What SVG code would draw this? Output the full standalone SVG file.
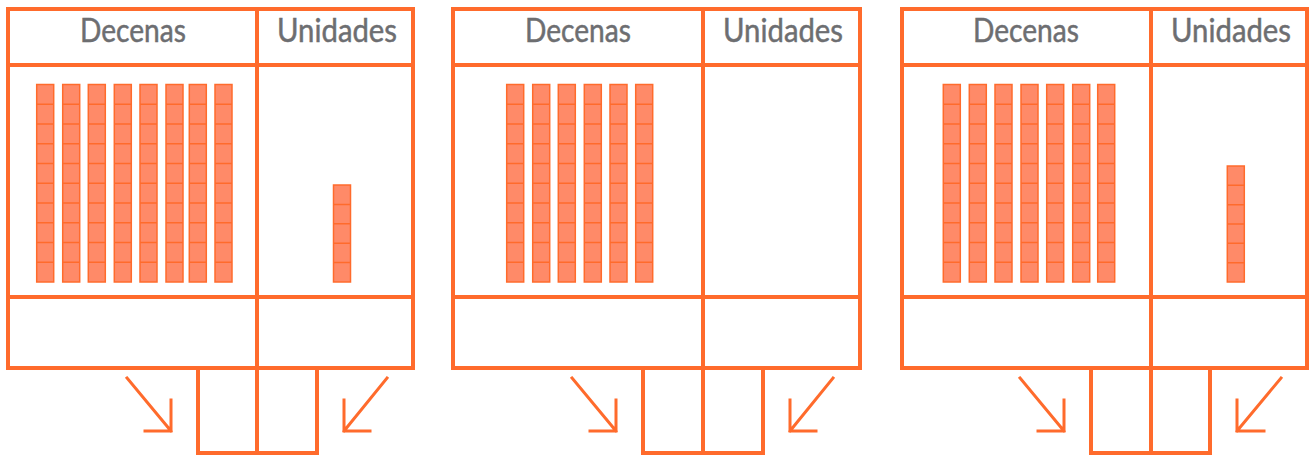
<svg xmlns="http://www.w3.org/2000/svg" xmlns:xlink="http://www.w3.org/1999/xlink" width="1311" height="456" viewBox="0 0 1311 456">
<style>
.frame{fill:none;stroke:#FF6B2C;stroke-width:4;stroke-linecap:square;stroke-linejoin:miter}
.arr{fill:none;stroke:#FF6B2C;stroke-width:3;stroke-linecap:square}
.blk{fill:#FF8A68;stroke:#FF6B2C;stroke-width:1.5}
.ln{fill:none;stroke:#FF6B2C;stroke-width:1.5}
.hd{font-family:Lato,"Open Sans","Liberation Sans",sans-serif;font-size:33px;fill:#6D6E71;stroke:#6D6E71;stroke-width:0.5;text-anchor:middle}
</style>
<defs>
<g id="rod"><rect class="blk" x="0" y="0" width="17" height="197.5"/><path class="ln" d="M0 19.75h17M0 39.5h17M0 59.25h17M0 79h17M0 98.75h17M0 118.5h17M0 138.25h17M0 158h17M0 177.75h17"/></g>
<g id="unit5"><rect class="blk" x="0" y="0" width="17" height="97"/><path class="ln" d="M0 19.4h17M0 38.8h17M0 58.2h17M0 77.6h17"/></g>
<g id="unit6"><rect class="blk" x="0" y="0" width="17" height="116"/><path class="ln" d="M0 19.33h17M0 38.67h17M0 58h17M0 77.33h17M0 96.67h17"/></g>
</defs>

<g id="panel1">
<path class="frame" d="M8 9H413V368H8Z M8 65H413 M8 297H413 M257 9V453 M198 368V453H317V368"/>
<text class="hd" x="133" y="42" textLength="106" lengthAdjust="spacingAndGlyphs">Decenas</text>
<text class="hd" x="337" y="42" textLength="120" lengthAdjust="spacingAndGlyphs">Unidades</text>
<use xlink:href="#rod" x="36.7" y="84.5"/>
<use xlink:href="#rod" x="62.7" y="84.5"/>
<use xlink:href="#rod" x="88.3" y="84.5"/>
<use xlink:href="#rod" x="114.3" y="84.5"/>
<use xlink:href="#rod" x="140" y="84.5"/>
<use xlink:href="#rod" x="166" y="84.5"/>
<use xlink:href="#rod" x="189.3" y="84.5"/>
<use xlink:href="#rod" x="215" y="84.5"/>
<use xlink:href="#unit5" x="333.5" y="185"/>
</g>

<g id="panel2">
<path class="frame" d="M453 9H860V368H453Z M453 65H860 M453 297H860 M703 9V453 M643 368V453H763V368"/>
<text class="hd" x="578" y="42" textLength="106" lengthAdjust="spacingAndGlyphs">Decenas</text>
<text class="hd" x="783" y="42" textLength="120" lengthAdjust="spacingAndGlyphs">Unidades</text>
<use xlink:href="#rod" x="506.7" y="84.5"/>
<use xlink:href="#rod" x="532.7" y="84.5"/>
<use xlink:href="#rod" x="558.3" y="84.5"/>
<use xlink:href="#rod" x="584.3" y="84.5"/>
<use xlink:href="#rod" x="610" y="84.5"/>
<use xlink:href="#rod" x="635.7" y="84.5"/>
</g>

<g id="panel3">
<path class="frame" d="M902 9H1307V368H902Z M902 65H1307 M902 297H1307 M1151 9V453 M1091 368V453H1210V368"/>
<text class="hd" x="1026" y="42" textLength="106" lengthAdjust="spacingAndGlyphs">Decenas</text>
<text class="hd" x="1231" y="42" textLength="120" lengthAdjust="spacingAndGlyphs">Unidades</text>
<use xlink:href="#rod" x="943.3" y="84.5"/>
<use xlink:href="#rod" x="969.3" y="84.5"/>
<use xlink:href="#rod" x="995" y="84.5"/>
<use xlink:href="#rod" x="1021" y="84.5"/>
<use xlink:href="#rod" x="1046.7" y="84.5"/>
<use xlink:href="#rod" x="1072.7" y="84.5"/>
<use xlink:href="#rod" x="1097.7" y="84.5"/>
<use xlink:href="#unit6" x="1227.3" y="166"/>
</g>

<g id="connectors">
<path class="arr" d="M127 378L171 431M171 400V431H145"/>
<path class="arr" d="M387 378L344 431M344 400V431H370"/>
<path class="arr" d="M572 378L616 431M616 400V431H590"/>
<path class="arr" d="M833 378L790 431M790 400V431H816"/>
<path class="arr" d="M1020 378L1064 431M1064 400V431H1038"/>
<path class="arr" d="M1281 378L1237 431M1237 400V431H1264"/>
</g>
</svg>
